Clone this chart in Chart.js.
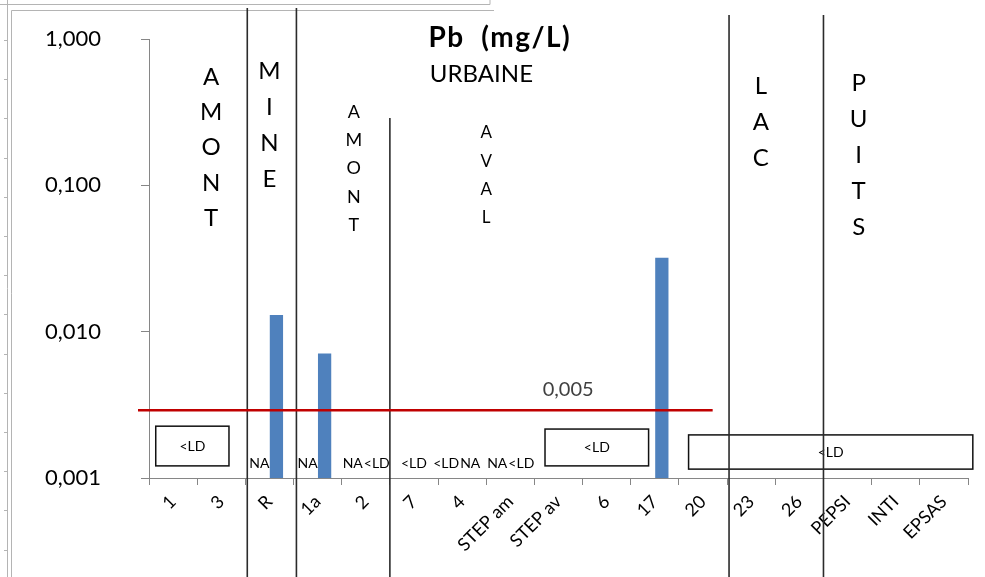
<!DOCTYPE html>
<html>
<head>
<meta charset="utf-8">
<script src="https://cdn.jsdelivr.net/npm/chart.js@4/dist/chart.umd.min.js"></script>
<style>
  html, body { margin: 0; padding: 0; background: #fff; }
  #wrap { width: 985px; height: 577px; position: relative; }
</style>
</head>
<body>
<div id="wrap"><canvas id="pbChart"></canvas></div>
<script>
// sampling sites
const sites = ["1", "3", "R", "1a", "2", "7", "4", "STEP am", "STEP av", "6", "17", "20", "23", "26", "PEPSI", "INTI", "EPSAS"];
// first series is empty (only shows its data labels), second holds the Pb values
const seriesA = [null, null, null, null, null, null, null, null, null, null, null, null, null, null, null, null, null];
const pbValues = [null, null, 0.013, 0.0071, null, null, null, null, null, null, 0.032, null, null, null, null, null, null];
const labelsA = [null, null, "NA", "NA", "NA", "<LD", "<LD", "NA", null, null, null, null, null, null, null, null, null];
const labelsB = [null, null, null, null, "<LD", null, "NA", "<LD", null, null, null, null, null, null, null, null, null];
const yTicks = [0.001, 0.01, 0.1, 1];
const limitLevel = 0.0029;
const limitText = "0,005";
const titleText = "Pb  (mg/L)";
const subTitle = "URBAINE";

const FONT = "Lato, 'Liberation Sans', sans-serif";

// "<LD" frames (category index range + value range)
const ldBoxes = [
  { x0: -0.36, x1: 1.16, y0: 0.00121, y1: 0.00226 },
  { x0: 7.72, x1: 9.87, y0: 0.00121, y1: 0.00216 },
  { x0: 10.7, x1: 16.6, y0: 0.00115, y1: 0.00197 }
];
// separators between groups of sites, with the top end of each line
const separators = [
  { at: 1.54, top: 8 }, { at: 2.56, top: 8 }, { at: 4.5, top: 118 },
  { at: 11.54, top: 15 }, { at: 13.5, top: 15 }
];
// vertical group names
const groups = [
  { text: "AMONT", at: 0.79, y0: 77, step: 35.3, size: 24 },
  { text: "MINE", at: 2.0, y0: 71, step: 36, size: 24 },
  { text: "AMONT", at: 3.75, y0: 112, step: 28.3, size: 18 },
  { text: "AVAL", at: 6.5, y0: 133, step: 28.3, size: 17 },
  { text: "LAC", at: 12.2, y0: 86, step: 36, size: 24 },
  { text: "PUITS", at: 14.23, y0: 83, step: 36, size: 24 }
];

const overlay = {
  id: "overlay",
  beforeDraw(chart) {
    const ctx = chart.ctx;
    ctx.save();
    ctx.strokeStyle = "#b4b4b4";
    ctx.lineWidth = 1;
    ctx.beginPath();
    ctx.moveTo(0, 4.5); ctx.lineTo(490, 4.5); ctx.lineTo(490, 0);
    ctx.moveTo(11.5, 577); ctx.lineTo(11.5, 10.5); ctx.lineTo(494, 10.5);
    ctx.moveTo(7.5, 0); ctx.lineTo(7.5, 577);
    for (let yy = 40; yy < 577; yy += 39.2) { ctx.moveTo(4, Math.round(yy) + 0.5); ctx.lineTo(7, Math.round(yy) + 0.5); }
    ctx.stroke();
    ctx.restore();
  },
  afterDatasetsDraw(chart) {
    const { ctx, scales: { x, y } } = chart;
    const base = y.getPixelForValue(0.001);
    ctx.save();

    // <LD frames
    ctx.strokeStyle = "#111";
    ctx.lineWidth = 1.5;
    ctx.fillStyle = "#000";
    ctx.font = "14px " + FONT;
    ctx.textAlign = "center";
    ctx.textBaseline = "middle";
    ldBoxes.forEach(b => {
      const l = x.getPixelForValue(b.x0), r = x.getPixelForValue(b.x1);
      const t = y.getPixelForValue(b.y1), bt = y.getPixelForValue(b.y0);
      ctx.strokeRect(l, t, r - l, bt - t);
      ctx.fillText("<LD", (l + r) / 2, (t + bt) / 2);
    });

    // data labels near the base
    sites.forEach((s, i) => {
      const cx = x.getPixelForValue(i);
      const a = labelsA[i], b = labelsB[i];
      const ly = base - 15;
      if (a && b) {
        ctx.textAlign = "right"; ctx.fillText(a, cx - 3, ly);
        ctx.textAlign = "left"; ctx.fillText(b, cx - 2, ly);
      } else if (a && pbValues[i] != null) {
        ctx.textAlign = "right"; ctx.fillText(a, cx, ly);
      } else if (a || b) {
        ctx.textAlign = "center"; ctx.fillText(a || b, cx, ly);
      }
    });

    // separators
    ctx.strokeStyle = "#2b2b2b";
    ctx.lineWidth = 1.6;
    separators.forEach(sp => {
      const px = x.getPixelForValue(sp.at);
      ctx.beginPath(); ctx.moveTo(px, sp.top); ctx.lineTo(px, chart.height); ctx.stroke();
    });

    // group names, one letter per line
    ctx.fillStyle = "#000";
    ctx.textAlign = "center";
    groups.forEach(g => {
      ctx.font = g.size + "px " + FONT;
      const px = x.getPixelForValue(g.at);
      [...g.text].forEach((ch, k) => ctx.fillText(ch, px, g.y0 + k * g.step));
    });

    // title
    ctx.textAlign = "left";
    ctx.font = "bold 28px " + FONT;
    ctx.letterSpacing = "1.5px";
    ctx.fillText(titleText, x.getPixelForValue(5.3), 38);
    ctx.letterSpacing = "0px";
    ctx.font = "24px " + FONT;
    ctx.fillText(subTitle, x.getPixelForValue(5.33), 74);

    // limit line
    const ly = y.getPixelForValue(limitLevel);
    ctx.strokeStyle = "#c00000";
    ctx.lineWidth = 2.5;
    ctx.beginPath();
    ctx.moveTo(chart.chartArea.left - 11, ly);
    ctx.lineTo(x.getPixelForValue(11.2), ly);
    ctx.stroke();
    ctx.fillStyle = "#404040";
    ctx.font = "20px " + FONT;
    ctx.textAlign = "center";
    ctx.fillText(limitText, x.getPixelForValue(8.2), ly - 21);

    ctx.restore();
  }
};

new Chart(document.getElementById("pbChart"), {
  type: "bar",
  data: {
    labels: sites,
    datasets: [
      { label: "A", data: seriesA, backgroundColor: "#4f81bd", categoryPercentage: 0.58, barPercentage: 0.95 },
      { label: "Pb", data: pbValues, backgroundColor: "#4f81bd", categoryPercentage: 0.58, barPercentage: 0.95 }
    ]
  },
  options: {
    responsive: true,
    maintainAspectRatio: false,
    animation: false,
    layout: { padding: { top: 39, right: 17, left: 45, bottom: 0 } },
    plugins: { legend: { display: false }, tooltip: { enabled: false }, title: { display: false } },
    scales: {
      x: {
        afterFit: s => { s.height = 99; },
        ticks: { autoSkip: false, maxRotation: 45, minRotation: 45, padding: 6, color: "#000", font: { family: FONT, size: 18 } },
        grid: { offset: true, drawOnChartArea: false, tickLength: 7, color: "#868686" },
        border: { color: "#868686" }
      },
      y: {
        type: "logarithmic",
        min: 0.001,
        max: 1,
        afterFit: s => { s.width = 104; },
        afterBuildTicks: s => { s.ticks = yTicks.map(v => ({ value: v, major: true })); },
        ticks: { padding: 3, crossAlign: "far", color: "#000", font: { family: FONT, size: 22 }, callback: v => Number(v).toFixed(3).replace(".", ",") },
        grid: { drawOnChartArea: false, tickLength: 8, color: "#868686" },
        border: { color: "#868686" }
      }
    }
  },
  plugins: [overlay]
});
</script>
</body>
</html>
